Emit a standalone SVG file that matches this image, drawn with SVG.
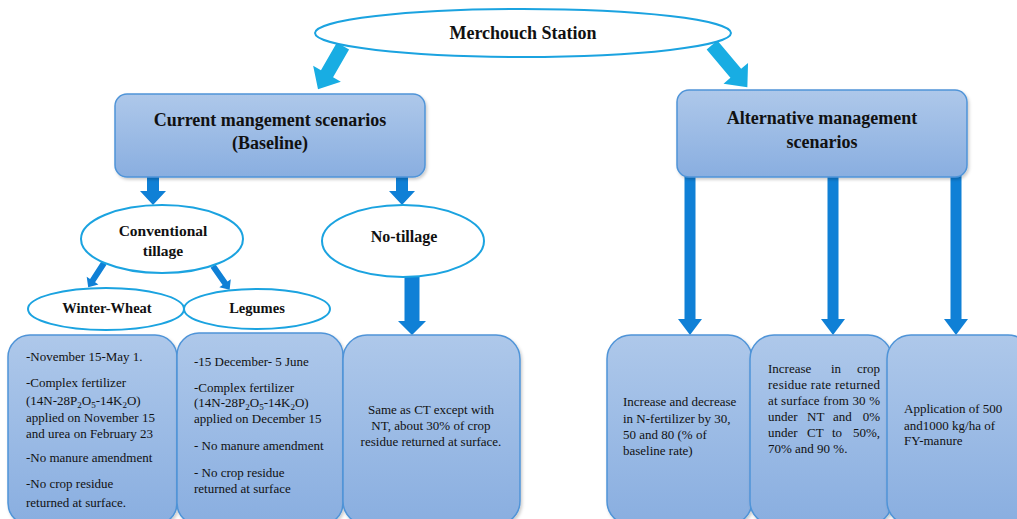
<svg xmlns="http://www.w3.org/2000/svg" width="1017" height="519" viewBox="0 0 1017 519">
<defs>
<linearGradient id="boxg" x1="0" y1="0" x2="0" y2="1">
<stop offset="0" stop-color="#aec8ea"/>
<stop offset="1" stop-color="#89aee0"/>
</linearGradient>
<filter id="sh" x="-10%" y="-10%" width="130%" height="130%">
<feDropShadow dx="1.5" dy="2" stdDeviation="1.5" flood-color="#000" flood-opacity="0.2"/>
</filter>
<style>
.box{fill:url(#boxg);stroke:#4f94d8;stroke-width:1.5;filter:url(#sh)}
.ell{fill:#fff;stroke:#1ba3e0;stroke-width:2}
.t{font-family:"Liberation Serif","Times New Roman",serif;fill:#111}
.b{font-weight:bold;text-anchor:middle}
.n{font-size:13px}
.dark{fill:#0f80d6}
.light{fill:#18ade3}
</style>
</defs>

<g id="connectors">
<polygon class="light" transform="translate(343,46) rotate(30)" points="-7,0 7,0 7,32 16,32 0,50 -16,32 -7,32"/>
<polygon class="light" transform="translate(712,45) rotate(-40)" points="-7,0 7,0 7,37 16,37 0,55 -16,37 -7,37"/>
<polygon class="dark" transform="translate(153,177)" points="-6,0 6,0 6,14 13,14 0,28 -13,14 -6,14"/>
<polygon class="dark" transform="translate(402,177)" points="-6,0 6,0 6,14 13,14 0,28 -13,14 -6,14"/>
<polygon class="dark" transform="translate(104,263) rotate(33)" points="-3,0 3,0 3,21 7,21 0,29 -7,21 -3,21"/>
<polygon class="dark" transform="translate(213,266) rotate(-35)" points="-3,0 3,0 3,21 7,21 0,29 -7,21 -3,21"/>
<polygon class="dark" transform="translate(412,276)" points="-7.5,0 7.5,0 7.5,45 14,45 0,59 -14,45 -7.5,45"/>
<polygon class="dark" transform="translate(690,176)" points="-5.5,0 5.5,0 5.5,143 12,143 0,159 -12,143 -5.5,143"/>
<polygon class="dark" transform="translate(833,176)" points="-5.5,0 5.5,0 5.5,143 12,143 0,159 -12,143 -5.5,143"/>
<polygon class="dark" transform="translate(956,176)" points="-5.5,0 5.5,0 5.5,143 12,143 0,159 -12,143 -5.5,143"/>
</g>

<g id="merchouch">
<ellipse class="ell" cx="523" cy="33" rx="208" ry="24"/>
<text class="t b" x="523" y="39" font-size="18">Merchouch Station</text>
</g>

<g id="current">
<rect class="box" x="115" y="94" width="310" height="83" rx="12"/>
<text class="t b" x="270" y="126" font-size="18">Current mangement scenarios</text>
<text class="t b" x="270" y="149" font-size="18">(Baseline)</text>
</g>

<g id="alternative">
<rect class="box" x="677" y="90" width="290" height="87" rx="12"/>
<text class="t b" x="822" y="124" font-size="18">Alternative management</text>
<text class="t b" x="822" y="148" font-size="18">scenarios</text>
</g>

<g id="conventional">
<ellipse class="ell" cx="162" cy="239" rx="81" ry="34"/>
<text class="t b" x="163" y="236" font-size="15.5">Conventional</text>
<text class="t b" x="163" y="256" font-size="15.5">tillage</text>
</g>

<g id="notillage">
<ellipse class="ell" cx="403" cy="241" rx="81" ry="36"/>
<text class="t b" x="404" y="242" font-size="16">No-tillage</text>
</g>

<g id="winterwheat">
<ellipse class="ell" cx="106" cy="309" rx="78" ry="21"/>
<text class="t b" x="107" y="313" font-size="14.5">Winter-Wheat</text>
</g>

<g id="legumes">
<ellipse class="ell" cx="257" cy="309" rx="73" ry="20"/>
<text class="t b" x="257" y="313" font-size="14.5">Legumes</text>
</g>

<g id="ww-details">
<rect class="box" x="8" y="335" width="169" height="190" rx="22"/>
<text class="t n" x="26" y="361">-November 15-May 1.</text>
<text class="t n" x="26" y="387">-Complex fertilizer</text>
<text class="t n" x="26" y="405">(14N-28P<tspan font-size="9" dy="3">2</tspan><tspan dy="-3">O</tspan><tspan font-size="9" dy="3">5</tspan><tspan dy="-3">-14K</tspan><tspan font-size="9" dy="3">2</tspan><tspan dy="-3">O)</tspan></text>
<text class="t n" x="26" y="422">applied on November 15</text>
<text class="t n" x="26" y="438">and urea on February 23</text>
<text class="t n" x="26" y="462">-No manure amendment</text>
<text class="t n" x="26" y="488">-No crop residue</text>
<text class="t n" x="26" y="507">returned at surface.</text>
</g>

<g id="leg-details">
<rect class="box" x="177" y="333" width="166" height="192" rx="22"/>
<text class="t n" x="194" y="366">-15 December- 5 June</text>
<text class="t n" x="194" y="392">-Complex fertilizer</text>
<text class="t n" x="194" y="407">(14N-28P<tspan font-size="9" dy="3">2</tspan><tspan dy="-3">O</tspan><tspan font-size="9" dy="3">5</tspan><tspan dy="-3">-14K</tspan><tspan font-size="9" dy="3">2</tspan><tspan dy="-3">O)</tspan></text>
<text class="t n" x="194" y="423">applied on December 15</text>
<text class="t n" x="194" y="450">- No manure amendment</text>
<text class="t n" x="194" y="477">- No crop residue</text>
<text class="t n" x="194" y="493">returned at surface</text>
</g>

<g id="nt-details">
<rect class="box" x="343" y="335" width="177" height="190" rx="24"/>
<text class="t n" x="431" y="414" text-anchor="middle">Same as CT except with</text>
<text class="t n" x="431" y="430" text-anchor="middle">NT, about 30% of crop</text>
<text class="t n" x="431" y="446" text-anchor="middle">residue returned at surface.</text>
</g>

<g id="alt-nfert">
<rect class="box" x="607" y="335" width="145" height="190" rx="24"/>
<text class="t n" x="623" y="406">Increase and decrease</text>
<text class="t n" x="623" y="423">in N-fertilizer by 30,</text>
<text class="t n" x="623" y="439">50 and 80 (% of</text>
<text class="t n" x="623" y="455">baseline rate)</text>
</g>

<g id="alt-residue">
<rect class="box" x="750" y="335" width="142" height="190" rx="24"/>
<text class="t n" y="373"><tspan x="768">Increase</tspan><tspan x="831">in</tspan><tspan x="880" text-anchor="end">crop</tspan></text>
<text class="t n" x="768" y="389" textLength="112" lengthAdjust="spacing">residue rate returned</text>
<text class="t n" x="768" y="405" textLength="112" lengthAdjust="spacing">at surface from 30 %</text>
<text class="t n" y="421"><tspan x="768">under</tspan><tspan x="807">NT</tspan><tspan x="833">and</tspan><tspan x="880" text-anchor="end">0%</tspan></text>
<text class="t n" y="437"><tspan x="768">under</tspan><tspan x="807">CT</tspan><tspan x="832">to</tspan><tspan x="880" text-anchor="end">50%,</tspan></text>
<text class="t n" x="768" y="453">70% and 90 %.</text>
</g>

<g id="alt-manure">
<rect class="box" x="887" y="335" width="145" height="190" rx="24"/>
<text class="t n" x="904" y="413">Application of 500</text>
<text class="t n" x="904" y="430">and1000 kg/ha of</text>
<text class="t n" x="904" y="445">FY-manure</text>
</g>
</svg>
